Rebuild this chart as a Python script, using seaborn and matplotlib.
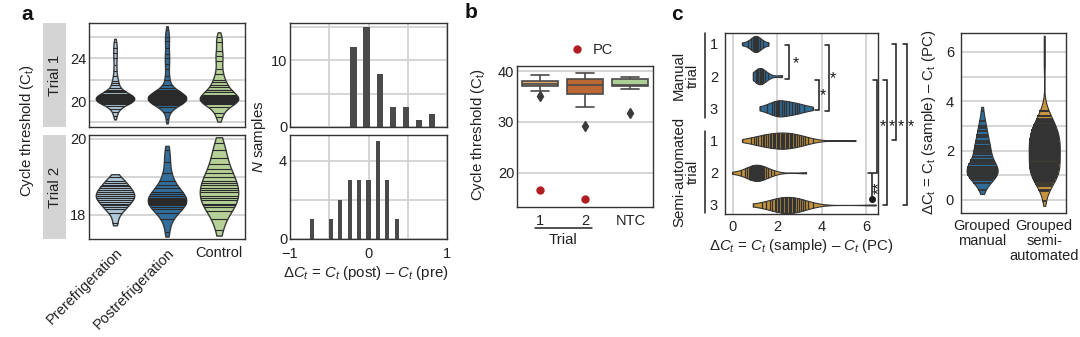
import numpy as np
import pandas as pd
import matplotlib
matplotlib.use('Agg')
import matplotlib.pyplot as plt
import seaborn as sns
from matplotlib.patches import Rectangle
from matplotlib.lines import Line2D

# ---------------- data ----------------
conditions = ['Prerefrigeration', 'Postrefrigeration', 'Control']

pre_t1 = [18.6, 19.0, 19.3, 19.5, 19.7, 19.75, 19.8, 19.85, 19.9, 19.95, 20.0, 20.0, 20.05,
          20.1, 20.1, 20.15, 20.2, 20.2, 20.25, 20.3, 20.3, 20.35, 20.4, 20.4, 20.45, 20.5,
          20.55, 20.6, 20.65, 20.7, 20.8, 20.9, 21.0, 21.2, 21.5, 21.7, 21.9, 22.3, 22.8,
          23.4, 24.0, 24.5, 25.0, 25.5]
post_t1 = [18.3, 19.0, 19.4, 19.6, 19.7, 19.75, 19.8, 19.85, 19.9, 19.95, 20.0, 20.0, 20.05,
           20.1, 20.15, 20.2, 20.2, 20.25, 20.3, 20.35, 20.4, 20.4, 20.45, 20.5, 20.55, 20.6,
           20.65, 20.7, 20.75, 20.8, 20.9, 21.0, 21.2, 21.5, 22.0, 22.3, 23.0, 23.5, 24.0,
           24.4, 25.0, 25.6, 26.0, 26.6]
ctrl_t1 = [18.5, 18.9, 19.4, 19.7, 19.8, 19.9, 20.0, 20.05, 20.1, 20.15, 20.2, 20.25, 20.3,
           20.35, 20.5, 20.6, 20.8, 21.0, 21.0, 21.3, 21.5, 21.8, 22.0, 22.5, 23.0, 23.7,
           24.2, 24.7, 25.5, 26.0]

pre_t2 = [17.8, 18.05, 18.15, 18.2, 18.25, 18.3, 18.35, 18.4, 18.45, 18.45, 18.5, 18.5,
          18.55, 18.6, 18.6, 18.65, 18.7, 18.75, 18.8, 18.85, 18.9, 19.0]
post_t2 = [17.55, 17.9, 18.05, 18.15, 18.2, 18.25, 18.3, 18.32, 18.35, 18.38, 18.4, 18.42,
           18.45, 18.5, 18.55, 18.6, 18.7, 18.8, 18.9, 19.1, 19.4, 19.7]
ctrl_t2 = [17.6, 17.9, 18.1, 18.2, 18.25, 18.3, 18.4, 18.45, 18.5, 18.6, 18.65, 18.7, 18.8,
           18.85, 18.9, 19.0, 19.1, 19.2, 19.35, 19.5, 19.7, 19.9]

delta_t1 = [-0.25, -0.24, -0.22, -0.21, -0.2, -0.19, -0.18, -0.17, -0.16, -0.15, -0.14, -0.12,
            -0.1, -0.09, -0.08, -0.07, -0.06, -0.05, -0.04, -0.03, -0.02, -0.01, 0.0, 0.01,
            0.02, 0.03, 0.04,
            0.07, 0.09, 0.11, 0.13, 0.15, 0.17, 0.19, 0.21,
            0.25, 0.3, 0.35, 0.42, 0.47, 0.52, 0.63, 0.78, 0.84]
delta_t2 = [-0.71, -0.47, -0.37, -0.33, -0.27, -0.24, -0.2, -0.15, -0.12, -0.08, -0.03, 0.0,
            0.04, 0.08, 0.1, 0.12, 0.14, 0.16, 0.2, 0.24, 0.27, 0.35]

box_groups = ['1', '2', 'NTC']
ct_trial1 = [35.1, 36.0, 36.9, 37.0, 37.1, 37.3, 37.5, 37.6, 37.7, 37.9, 38.1, 38.2, 38.3, 39.3]
ct_trial2 = [29.2, 33.0, 34.8, 35.5, 35.7, 36.5, 37.0, 37.4, 37.9, 38.2, 38.4, 38.5, 39.0, 39.7]
ct_ntc = [31.8, 36.4, 36.9, 37.0, 37.1, 37.2, 37.3, 37.6, 38.2, 38.5, 38.6, 38.7, 38.9]
pc_groups = ['1', '2']
pc_ct = [16.6, 14.9]

c_rows = ['M1', 'M2', 'M3', 'S1', 'S2', 'S3']
c_row_labels = ['1', '2', '3', '1', '2', '3']
man1 = [0.42, 0.7, 0.82, 0.9, 0.95, 1.0, 1.03, 1.06, 1.1, 1.15, 1.22, 1.35, 1.6]
man2 = [0.9, 1.05, 1.1, 1.15, 1.2, 1.22, 1.25, 1.3, 1.35, 1.45, 1.6, 2.2]
man3 = [1.2, 1.55, 1.75, 1.85, 1.95, 2.0, 2.05, 2.1, 2.2, 2.3, 2.4, 2.55, 2.65, 2.8, 2.9,
        3.0, 3.2, 3.6]
semi1 = [0.42, 0.8, 0.95, 1.05, 1.15, 1.25, 1.35, 1.42, 1.5, 1.58, 1.65, 1.72, 1.8, 1.86,
         1.92, 1.98, 2.04, 2.1, 2.15, 2.2, 2.26, 2.32, 2.38, 2.44, 2.5, 2.56, 2.62, 2.68,
         2.75, 2.82, 2.9, 2.98, 3.05, 3.15, 3.25, 3.4, 3.6, 5.53]
semi2 = [-0.03, 0.35, 0.55, 0.65, 0.72, 0.78, 0.83, 0.88, 0.92, 0.96, 1.0, 1.04, 1.08, 1.12,
         1.16, 1.2, 1.25, 1.3, 1.36, 1.42, 1.5, 1.6, 1.72, 1.85, 3.3]
semi3 = [0.9, 1.3, 1.5, 1.65, 1.78, 1.88, 1.96, 2.04, 2.1, 2.16, 2.22, 2.28, 2.34, 2.4, 2.46,
         2.52, 2.58, 2.64, 2.7, 2.76, 2.82, 2.9, 2.98, 3.06, 3.15, 3.25, 3.4, 3.6, 6.45]
grouped_labels = ['Grouped\nmanual', 'Grouped\nsemi-\nautomated']

# ---------------- style ----------------
sns.set_theme(style='whitegrid')
plt.rcParams['font.family'] = ['Liberation Sans', 'DejaVu Sans']
plt.rcParams['mathtext.fontset'] = 'custom'
plt.rcParams['mathtext.rm'] = 'Liberation Sans'
plt.rcParams['mathtext.it'] = 'Liberation Sans:italic'
plt.rcParams['mathtext.default'] = 'regular'
FS = 10.5
LFS = 10.8
TXT = '#222222'
GRID = '#d2d2d2'

W, H = 1080, 337
fig = plt.figure(figsize=(W / 100, H / 100), dpi=100)


def add_ax(x0, y0, x1, y1):
    return fig.add_axes([x0 / W, 1 - y1 / H, (x1 - x0) / W, (y1 - y0) / H])


def style_ax(ax, grid):
    for s in ax.spines.values():
        s.set_visible(True)
        s.set_color('#333333')
        s.set_linewidth(1.0)
    ax.grid(False)
    if grid in ('x', 'both'):
        ax.xaxis.grid(True, color=GRID, linewidth=1.3)
    if grid in ('y', 'both'):
        ax.yaxis.grid(True, color=GRID, linewidth=1.3)
    ax.set_axisbelow(True)
    ax.tick_params(length=0, pad=2, labelsize=FS, colors=TXT)
    ax.set_xlabel('')
    ax.set_ylabel('')


# ---------------- panel a: violins ----------------
pal_a = dict(zip(conditions, ['#a8cbe2', '#1f70ae', '#b5db8e']))
ax_v1 = add_ax(89, 23, 245, 127)
ax_v2 = add_ax(89, 135, 245, 239)
for ax, series, ylim, yt, ytl, strip, bwa, cut in [
        (ax_v1, (pre_t1, post_t1, ctrl_t1), (17.57, 27.3), [18, 20, 22, 24, 26],
         ['', '20', '', '24', ''], 'Trial 1', 0.55, 0.8),
        (ax_v2, (pre_t2, post_t2, ctrl_t2), (17.37, 20.1), [18, 19, 20],
         ['18', '', '20'], 'Trial 2', 0.9, 0.5)]:
    df = pd.DataFrame({
        'cond': sum([[c] * len(s) for c, s in zip(conditions, series)], []),
        'ct': sum([list(s) for s in series], [])})
    sns.violinplot(data=df, x='cond', y='ct', hue='cond', order=conditions,
                   hue_order=conditions, palette=pal_a, legend=False, inner='stick',
                   cut=cut, bw_adjust=bwa, density_norm='width', width=0.74,
                   linecolor='#3a3a3a', linewidth=1.0,
                   inner_kws=dict(linewidth=0.8, color='#2a2a2a'), ax=ax)
    style_ax(ax, 'y')
    ax.set_ylim(*ylim)
    ax.set_yticks(yt)
    ax.set_yticklabels(ytl)
    ax.set_xlim(-0.5, 2.5)
    ax.add_patch(Rectangle((-0.295, 0), 0.148, 1, transform=ax.transAxes,
                           clip_on=False, facecolor='#d4d4d4', edgecolor='none'))
    ax.text(-0.221, 0.5, strip, transform=ax.transAxes, rotation=90, ha='center',
            va='center', fontsize=LFS, color=TXT)
ax_v1.set_xticklabels([])
ax_v2.set_xticks([0, 1, 2])
ax_v2.set_xticklabels(conditions)
for i, lab in enumerate(ax_v2.get_xticklabels()):
    if i < 2:
        lab.set_rotation(45)
        lab.set_ha('right')
        lab.set_va('top')
        lab.set_rotation_mode('anchor')
    else:
        lab.set_rotation(0)
        lab.set_ha('center')
ax_v2.tick_params(axis='x', pad=5)
fig.text(27 / W, 1 - 131 / H, 'Cycle threshold (C$_t$)', rotation=90, ha='center',
         va='center', fontsize=LFS, color=TXT)

# ---------------- panel a: histograms ----------------
ax_h1 = add_ax(290, 23, 447, 127)
ax_h2 = add_ax(290, 135, 447, 239)
sns.histplot(x=delta_t1, binwidth=1 / 6, binrange=(-0.273, 0.894), shrink=0.5,
             color='#4a4a4a', alpha=1, edgecolor='none', ax=ax_h1)
sns.histplot(x=delta_t2, binwidth=0.12, binrange=(-0.78, 0.42), shrink=0.45,
             color='#4a4a4a', alpha=1, edgecolor='none', ax=ax_h2)
for ax in (ax_h1, ax_h2):
    style_ax(ax, 'both')
    ax.set_xlim(-1, 1)
    ax.set_xticks([-1, -0.5, 0, 0.5, 1])
ax_h1.set_ylim(0, 15.6)
ax_h1.set_yticks([0, 5, 10, 15])
ax_h1.set_yticklabels(['0', '', '10', ''])
ax_h1.set_xticklabels([])
ax_h2.set_ylim(0, 5.3)
ax_h2.set_yticks([0, 2, 4])
ax_h2.set_yticklabels(['0', '', '4'])
ax_h2.set_xticklabels(['\u22121', '', '0', '', '1'])
ax_h2.tick_params(axis='x', pad=6)
fig.text(259 / W, 1 - 137 / H, '$\\it{N}$ samples', rotation=90, ha='center',
         va='center', fontsize=LFS, color=TXT)
fig.text(366 / W, 1 - 273 / H,
         '$\\Delta \\it{C}_{t}$ = $\\it{C}_{t}$ (post) \u2013 $\\it{C}_{t}$ (pre)',
         ha='center', va='center', fontsize=LFS, color=TXT)

# ---------------- panel b ----------------
ax_b = add_ax(517, 66, 653, 207)
df_b = pd.DataFrame({
    'grp': ['1'] * len(ct_trial1) + ['2'] * len(ct_trial2) + ['NTC'] * len(ct_ntc),
    'ct': ct_trial1 + ct_trial2 + ct_ntc})
sns.boxplot(data=df_b, x='grp', y='ct', hue='grp', order=box_groups, hue_order=box_groups,
            palette=dict(zip(box_groups, ['#eda35f', '#d2621e', '#a9d98a'])), legend=False,
            width=0.8, linecolor='#4a4a4a', linewidth=1.2,
            flierprops=dict(marker='d', markerfacecolor='#3a3a3a',
                            markeredgecolor='#3a3a3a', markersize=5.5), ax=ax_b)
df_pc = pd.DataFrame({'grp': pc_groups, 'ct': pc_ct, 'kind': ['PC'] * len(pc_ct)})
sns.stripplot(data=df_pc, x='grp', y='ct', hue='kind', order=box_groups,
              palette={'PC': '#b01e23'}, jitter=False, size=6, ax=ax_b)
style_ax(ax_b, 'y')
ax_b.set_ylim(13.3, 41)
ax_b.set_xlim(-0.5, 2.5)
ax_b.set_yticks([20, 30, 40])
ax_b.tick_params(axis='x', pad=5)
sns.move_legend(ax_b, 'lower center', bbox_to_anchor=(0.52, 1.0), title=None,
                frameon=False, fontsize=FS, handletextpad=0.1, borderaxespad=0.2)
ax_b.plot([-0.1, 1.15], [-0.15, -0.15], color='#222', lw=1.1,
          transform=ax_b.get_xaxis_transform(), clip_on=False)
ax_b.text(0.52, -0.235, 'Trial', transform=ax_b.get_xaxis_transform(), ha='center',
          va='center', fontsize=LFS, color=TXT)
fig.text(478 / W, 1 - 135 / H, 'Cycle threshold (C$_t$)', rotation=90, ha='center',
         va='center', fontsize=LFS, color=TXT)

# ---------------- panel c: per-trial violins ----------------
ax_c = add_ax(725, 33, 878, 214)
c_values = [man1, man2, man3, semi1, semi2, semi3]
BLUE, ORANGE = '#1f6fa9', '#dc9a26'
pal_c = dict(zip(c_rows, [BLUE] * 3 + [ORANGE] * 3))
df_c = pd.DataFrame({'row': sum([[r] * len(v) for r, v in zip(c_rows, c_values)], []),
                     'delta': sum([list(v) for v in c_values], [])})
sns.violinplot(data=df_c, x='delta', y='row', hue='row', order=c_rows, hue_order=c_rows,
               palette=pal_c, legend=False, orient='h', inner='stick', cut=0,
               density_norm='width', width=0.5, linecolor='#333333', linewidth=0.8,
               inner_kws=dict(linewidth=0.95, color='#333333'), ax=ax_c)
style_ax(ax_c, 'x')
ax_c.set_xlim(-0.36, 6.55)
ax_c.set_ylim(5.28, -0.34)
ax_c.set_xticks([0, 2, 4, 6])
ax_c.set_yticks(range(6))
ax_c.set_yticklabels(c_row_labels)
ax_c.tick_params(axis='y', pad=5)
ax_c.tick_params(axis='x', pad=4)
fig.text(801 / W, 1 - 246 / H,
         '$\\Delta \\it{C}_{t}$ = $\\it{C}_{t}$ (sample) \u2013 $\\it{C}_{t}$ (PC)',
         ha='center', va='center', fontsize=LFS, color=TXT)

# group labels
for (y0, y1, txt) in [(33, 118, 'Manual\ntrial'), (131, 213, 'Semi-automated\ntrial')]:
    fig.add_artist(Line2D([705 / W, 705 / W], [1 - y0 / H, 1 - y1 / H], color='#222',
                          lw=1.1))
    fig.text(686 / W, 1 - (y0 + y1) / 2 / H, txt, rotation=90, ha='center', va='center',
             fontsize=LFS, color=TXT, multialignment='center', linespacing=1.0)


def bracket(ax, x, y0, y1, tick=0.18, bottom_tick=True):
    xs = [x - tick, x, x] + ([x - tick] if bottom_tick else [])
    ys = [y0, y0, y1] + ([y1] if bottom_tick else [])
    ax.plot(xs, ys, color='#1a1a1a', lw=1.1, clip_on=False, solid_joinstyle='miter')


def star(ax, x, y, s='*', rot=0):
    ax.text(x, y, s, ha='center', va='center', fontsize=FS + 1, color='#1a1a1a',
            rotation=rot, clip_on=False)


bracket(ax_c, 2.54, 0.04, 1.08)
star(ax_c, 2.85, 0.62)
bracket(ax_c, 3.90, 1.11, 2.04)
star(ax_c, 4.06, 1.62)
bracket(ax_c, 4.33, 0.04, 2.07)
star(ax_c, 4.51, 1.08)
bracket(ax_c, 6.26, 4.02, 4.82, bottom_tick=False)
ax_c.plot([6.26], [4.82], 'o', color='#1a1a1a', ms=4, clip_on=False)
star(ax_c, 6.62, 4.45, '**', rot=90)
bracket(ax_c, 6.51, 1.11, 4.0)
bracket(ax_c, 6.96, 1.11, 4.99)
bracket(ax_c, 7.38, 0.0, 2.97)
bracket(ax_c, 7.84, 0.0, 4.99)
for sx in [6.78, 7.19, 7.59, 8.02]:
    star(ax_c, sx, 2.58)

# ---------------- panel c: grouped violins ----------------
ax_g = add_ax(961, 33, 1066, 213)
grouped = [man1 + man2 + man3, semi1 + semi2 + semi3]
df_g = pd.DataFrame({'grp': sum([[g] * len(v) for g, v in zip(grouped_labels, grouped)], []),
                     'delta': sum(grouped, [])})
sns.violinplot(data=df_g, x='grp', y='delta', hue='grp', order=grouped_labels,
               hue_order=grouped_labels, palette=dict(zip(grouped_labels, [BLUE, ORANGE])),
               legend=False, inner='stick', cut=0.5, density_norm='width', width=0.5,
               linecolor='#333333', linewidth=0.8,
               inner_kws=dict(linewidth=1.3, color='#333333'), ax=ax_g)
style_ax(ax_g, 'y')
ax_g.set_xlim(-0.34, 1.35)
ax_g.set_ylim(-0.53, 6.77)
ax_g.set_yticks(range(7))
ax_g.set_yticklabels(['0', '', '2', '', '4', '', '6'])
ax_g.tick_params(axis='y', pad=5)
ax_g.tick_params(axis='x', pad=4)
for lab in ax_g.get_xticklabels():
    lab.set_multialignment('center')
    lab.set_linespacing(1.1)
fig.text(929 / W, 1 - 122 / H,
         '$\\Delta$C$_t$ = C$_t$ (sample) \u2013 C$_t$ (PC)', rotation=90, ha='center',
         va='center', fontsize=LFS, color=TXT)

# ---------------- panel letters ----------------
for x, y, t in [(21, 14, 'a'), (465, 13, 'b'), (671, 14, 'c')]:
    fig.text(x / W, 1 - y / H, t, fontsize=15, fontweight='bold', ha='left', va='center',
             color='#111')

fig.savefig('out.png', dpi=100)
